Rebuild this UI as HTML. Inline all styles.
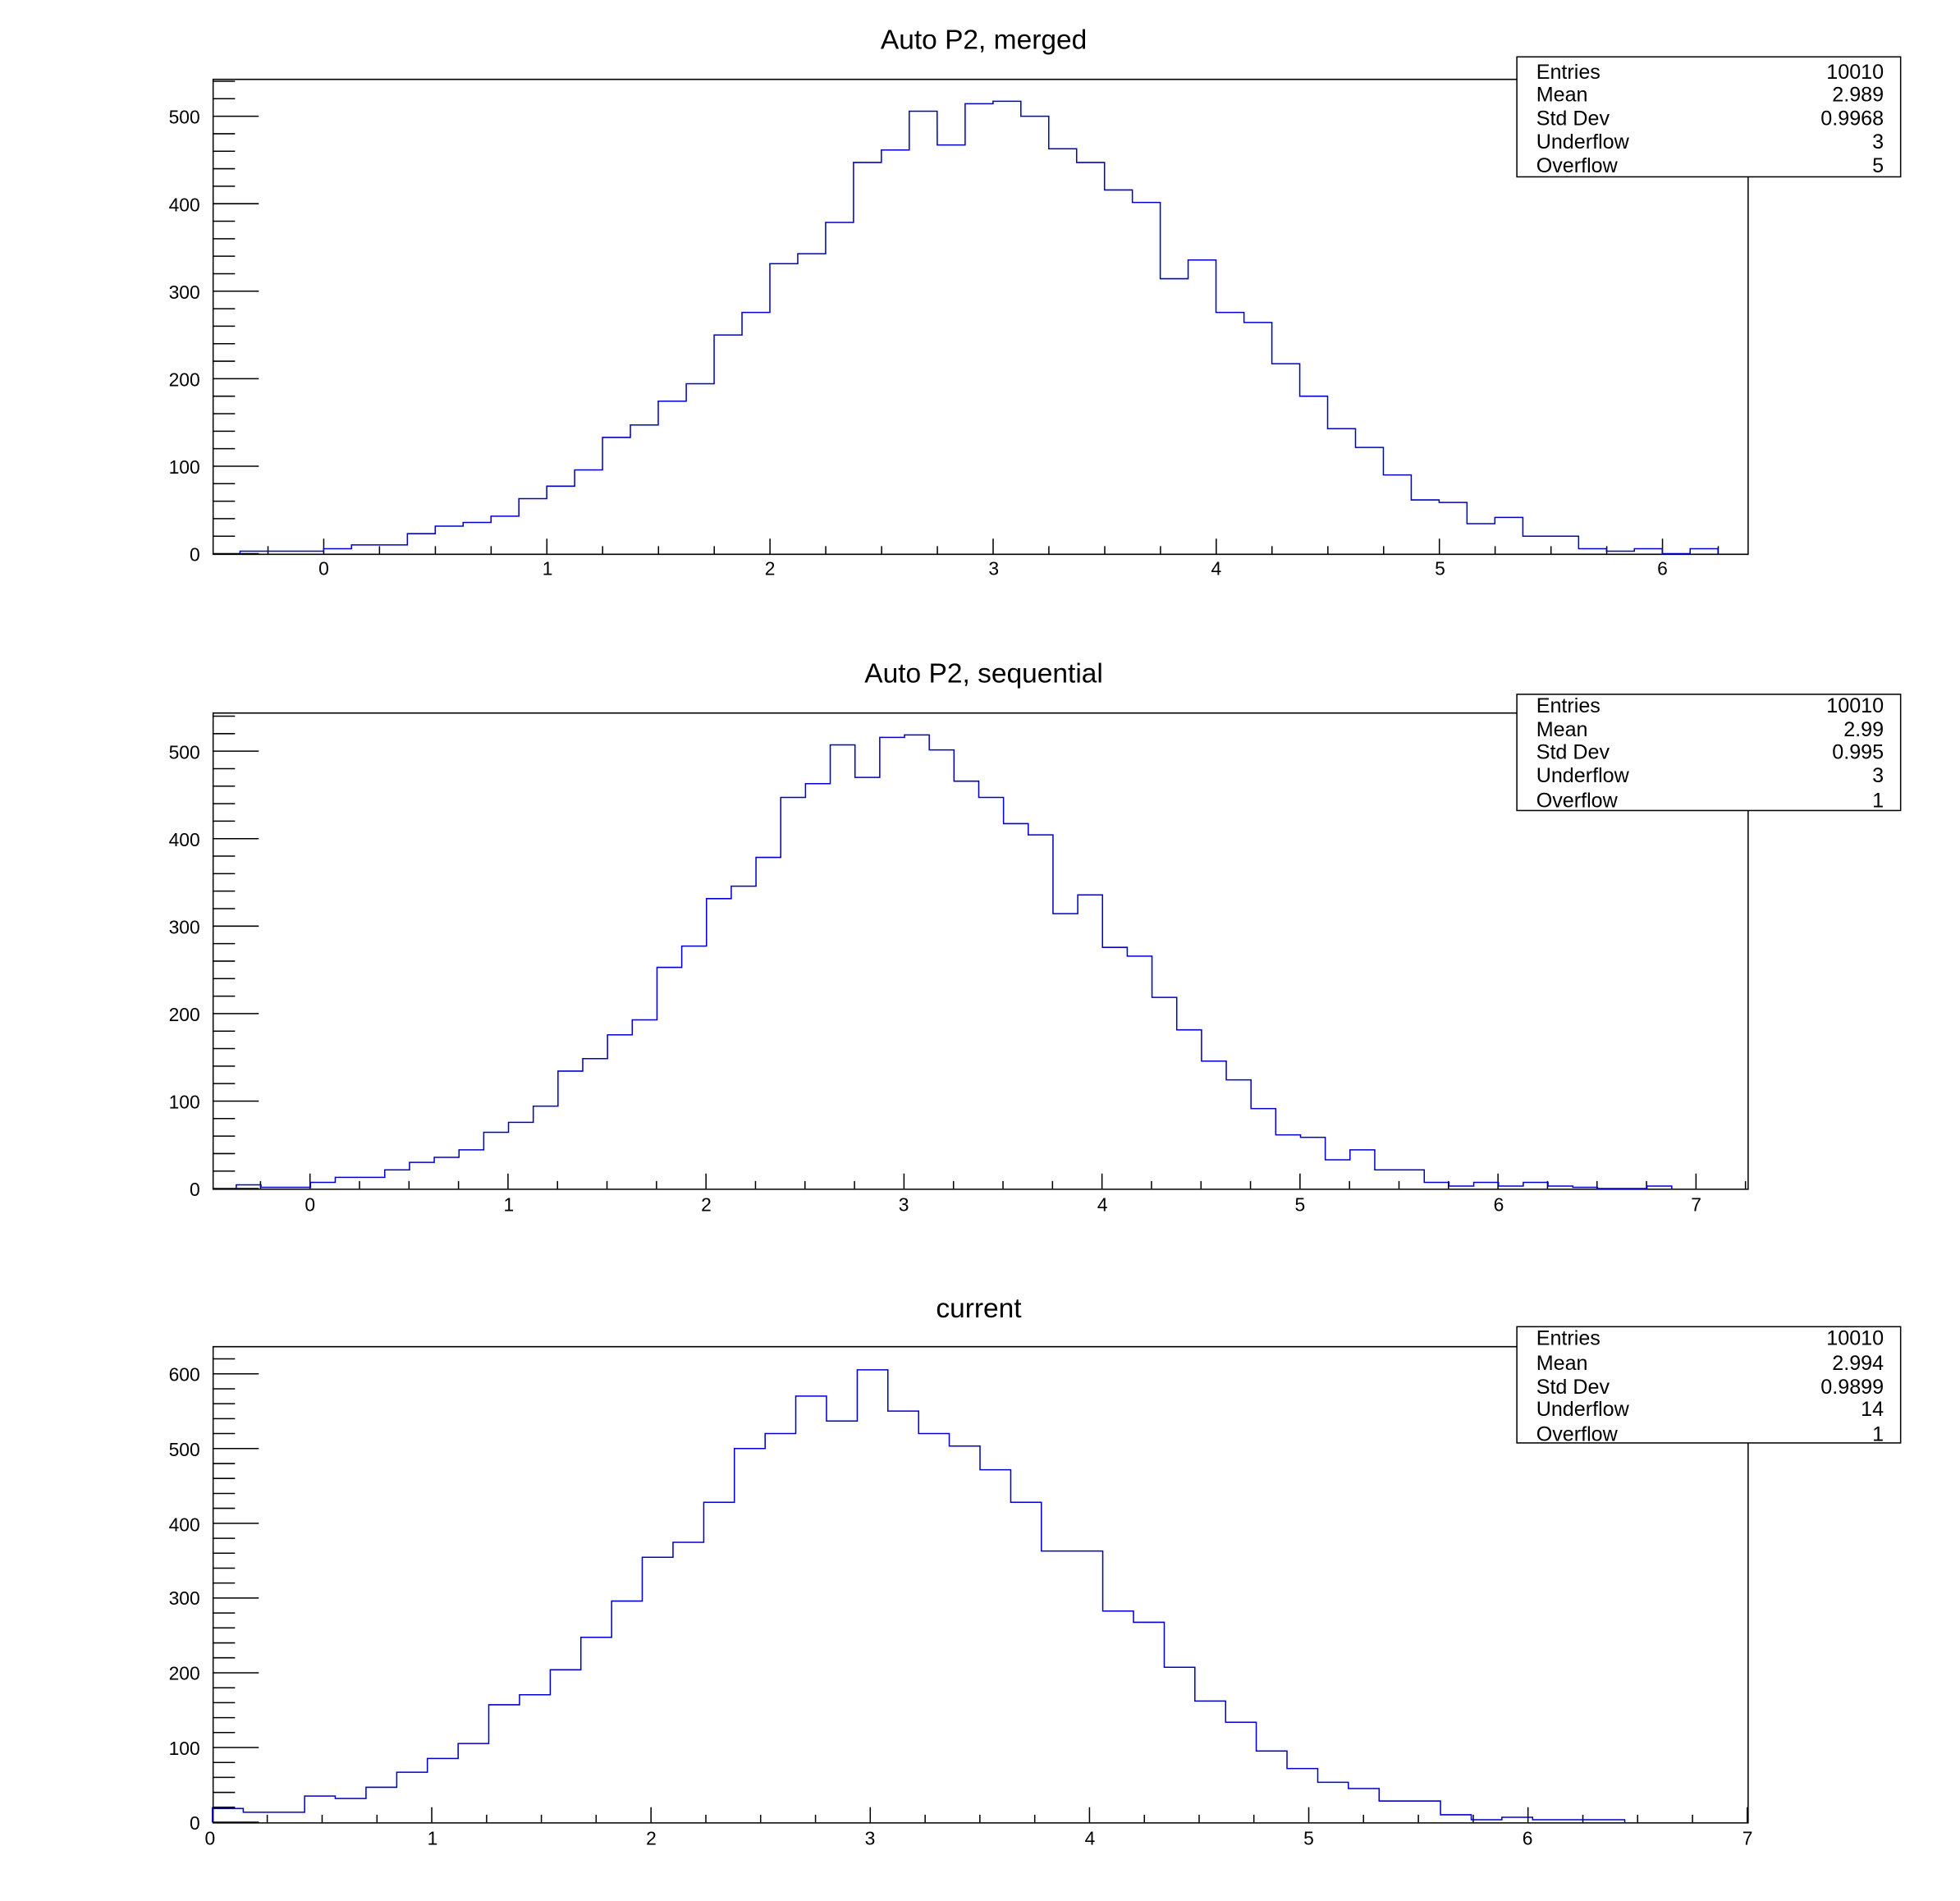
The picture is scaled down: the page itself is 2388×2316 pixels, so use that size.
<!DOCTYPE html>
<html><head><meta charset="utf-8"><style>
html,body{margin:0;padding:0;background:#fff}
svg{display:block}
text{font-family:"Liberation Sans",sans-serif;fill:#000}
</style></head><body>
<svg id="s" width="2388" height="2316" viewBox="0 0 1568 1521" preserveAspectRatio="none" xmlns="http://www.w3.org/2000/svg">
<rect width="1568" height="1521" fill="#fff"/>
<g id="g"></g>
<text x="787" y="39" font-size="22" text-anchor="middle">Auto P2, merged</text>
<text x="787" y="546" font-size="22" text-anchor="middle">Auto P2, sequential</text>
<text x="783" y="1054" font-size="22" text-anchor="middle">current</text>
<g font-size="15" text-anchor="end">
<text x="160" y="449">0</text><text x="160" y="379">100</text><text x="160" y="309">200</text><text x="160" y="239">300</text><text x="160" y="169">400</text><text x="160" y="99">500</text>
<text x="160" y="957">0</text><text x="160" y="887">100</text><text x="160" y="817">200</text><text x="160" y="747">300</text><text x="160" y="677">400</text><text x="160" y="607">500</text>
<text x="160" y="1464">0</text><text x="160" y="1404">100</text><text x="160" y="1344">200</text><text x="160" y="1284">300</text><text x="160" y="1225">400</text><text x="160" y="1165">500</text><text x="160" y="1105">600</text>
</g>
<g font-size="15" text-anchor="middle">
<text x="259" y="460">0</text><text x="438" y="460">1</text><text x="616" y="460">2</text><text x="795" y="460">3</text><text x="973" y="460">4</text><text x="1152" y="460">5</text><text x="1330" y="460">6</text>
<text x="248" y="969">0</text><text x="407" y="969">1</text><text x="565" y="969">2</text><text x="723" y="969">3</text><text x="882" y="969">4</text><text x="1040" y="969">5</text><text x="1199" y="969">6</text><text x="1357" y="969">7</text>
<text x="168" y="1476">0</text><text x="346" y="1476">1</text><text x="521" y="1476">2</text><text x="696" y="1476">3</text><text x="872" y="1476">4</text><text x="1047" y="1476">5</text><text x="1222" y="1476">6</text><text x="1398" y="1476">7</text>
</g>
<g font-size="16.5">
<rect x="1213.5" y="45.5" width="307" height="96" fill="#fff" stroke="#000"/>
<text x="1229" y="63">Entries</text><text x="1229" y="81">Mean</text><text x="1229" y="100">Std Dev</text><text x="1229" y="119">Underflow</text><text x="1229" y="138">Overflow</text>
<g text-anchor="end"><text x="1507" y="63">10010</text><text x="1507" y="81">2.989</text><text x="1507" y="100">0.9968</text><text x="1507" y="119">3</text><text x="1507" y="138">5</text></g>
<rect x="1213.5" y="555.5" width="307" height="93" fill="#fff" stroke="#000"/>
<text x="1229" y="570">Entries</text><text x="1229" y="589">Mean</text><text x="1229" y="607">Std Dev</text><text x="1229" y="626">Underflow</text><text x="1229" y="646">Overflow</text>
<g text-anchor="end"><text x="1507" y="570">10010</text><text x="1507" y="589">2.99</text><text x="1507" y="607">0.995</text><text x="1507" y="626">3</text><text x="1507" y="646">1</text></g>
<rect x="1213.5" y="1061.5" width="307" height="93" fill="#fff" stroke="#000"/>
<text x="1229" y="1076">Entries</text><text x="1229" y="1096">Mean</text><text x="1229" y="1115">Std Dev</text><text x="1229" y="1133">Underflow</text><text x="1229" y="1153">Overflow</text>
<g text-anchor="end"><text x="1507" y="1076">10010</text><text x="1507" y="1096">2.994</text><text x="1507" y="1115">0.9899</text><text x="1507" y="1133">14</text><text x="1507" y="1153">1</text></g>
</g>
</svg>
<script>
var g=document.getElementById('g'),NS='http://www.w3.org/2000/svg';
function el(t,a){var e=document.createElementNS(NS,t);for(var k in a)e.setAttribute(k,a[k]);g.appendChild(e);return e;}
function frame(top,bot){el('path',{d:'M170.5 '+top+'.5H1398.5V'+bot+'.5H170.5Z',fill:'none',stroke:'#000','stroke-width':1});}
function yt(y0,pxPer100,top){var d='';for(var i=0;;i++){var y=y0-i*pxPer100/5;if(y<top)break;var L=(i%5==0)?37:18;d+='M170 '+y.toFixed(1)+'h'+L;}el('path',{d:d,stroke:'#000','stroke-width':1,fill:'none'});}
function xt(x0,ppu,lo,hi,bot){var d='';for(var k=Math.ceil(lo*4);k<=hi*4;k++){var x=x0+k*ppu/4;if(x<170||x>1398)continue;var L=(k%4==0)?12:6;d+='M'+x.toFixed(1)+' '+bot+'v-'+L;}el('path',{d:d,stroke:'#000','stroke-width':1,fill:'none'});}
function hist(x0,w,ys,base){var d='M'+x0+' '+base;for(var i=0;i<ys.length;i++){var xa=x0+i*w,xb=xa+w;d+='L'+xa.toFixed(1)+' '+ys[i]+'L'+xb.toFixed(1)+' '+ys[i];}d+='L'+(x0+ys.length*w).toFixed(1)+' '+base;el('path',{d:d,fill:'none',stroke:'#0000cc','stroke-width':1});}
frame(63,443);yt(443,70,63);xt(259,178.5,-0.5,6.4,443);
hist(192,22.31,[441,441,441,439,436,436,427,421,418,413,399,389,376,350,340,321,307,268,250,211,203,178,130,120,89,116,83,81,93,119,130,152,162,223,208,250,258,291,317,343,358,380,400,402,419,414,429,429,439,441,439,443,439],443);
frame(570,951);yt(951,70,570);xt(248,158.4,-0.5,7.3,951);
hist(189,19.8,[948,950,950,946,942,942,936,930,926,920,906,898,885,857,847,828,816,774,757,719,709,686,638,627,596,622,590,588,600,625,638,659,668,731,716,758,765,798,824,849,864,887,908,910,928,920,936,936,946,949,946,949,946,949,950,951,951,949],951);
frame(1077,1458);yt(1458,59.8,1077);xt(170,175.4,0,7,1458);
hist(170,24.56,[1447,1450,1450,1437,1439,1430,1418,1407,1395,1364,1356,1336,1310,1281,1246,1234,1202,1159,1147,1117,1137,1096,1129,1147,1157,1176,1202,1241,1241,1289,1298,1334,1361,1378,1401,1415,1426,1431,1441,1441,1452,1456,1454,1456,1456,1456],1458);
var s=document.getElementById('s');s.insertBefore(g,s.children[1]);
</script>
</body></html>
